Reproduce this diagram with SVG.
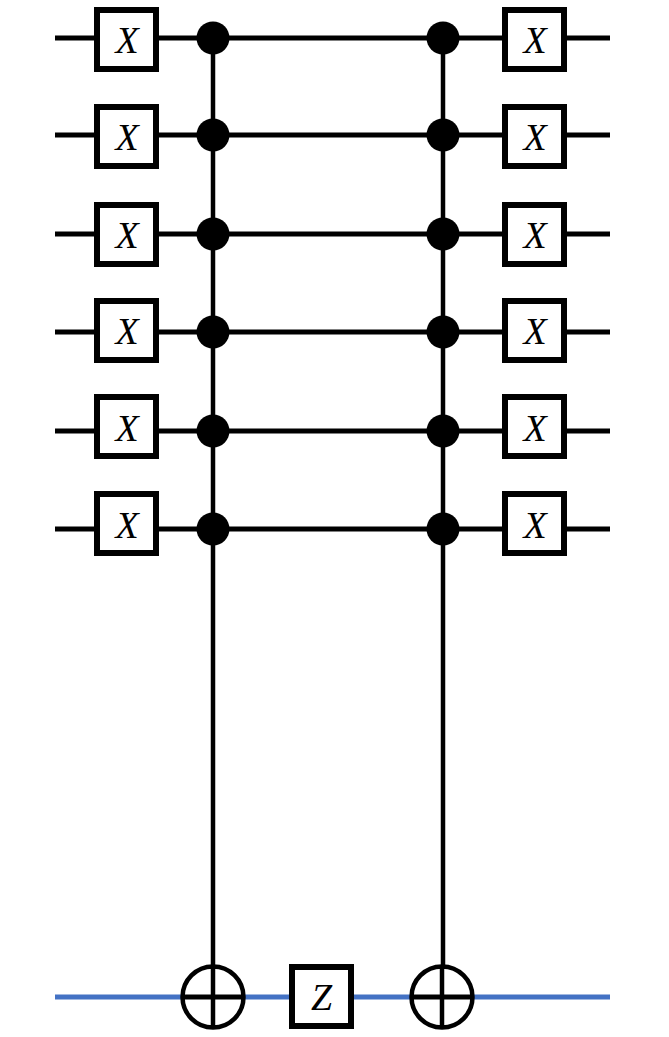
<svg xmlns="http://www.w3.org/2000/svg" width="669" height="1037" viewBox="0 0 669 1037">
<style>
.wire{stroke:#000;stroke-width:5;fill:none}
.qwire{stroke:#4472C4;stroke-width:5;fill:none}
.vline{stroke:#000;stroke-width:4.5;fill:none}
.box{fill:#fff;stroke:#000;stroke-width:6}
.dot{fill:#000}
.tgt{fill:#fff;stroke:#000;stroke-width:4.5}
.lbl{font-family:"Liberation Serif","DejaVu Serif",serif;font-style:italic;font-size:38px;fill:#000;text-anchor:middle;dominant-baseline:central}
</style>
<rect width="669" height="1037" fill="#fff"/>
<g id="connectors">
<line class="wire" x1="55" y1="38" x2="610" y2="38"/>
<line class="wire" x1="55" y1="135" x2="610" y2="135"/>
<line class="wire" x1="55" y1="234" x2="610" y2="234"/>
<line class="wire" x1="55" y1="332" x2="610" y2="332"/>
<line class="wire" x1="55" y1="431" x2="610" y2="431"/>
<line class="wire" x1="55" y1="529" x2="610" y2="529"/>
<line class="qwire" x1="55" y1="997" x2="610" y2="997"/>
<line class="vline" x1="213" y1="38" x2="213" y2="1028"/>
<line class="vline" x1="443" y1="38" x2="443" y2="1028"/>
</g>
<g id="x-left-1"><rect class="box" x="97" y="10" width="59" height="59"/><text class="lbl" x="127" y="40">X</text></g>
<g id="x-left-2"><rect class="box" x="97" y="107" width="59" height="59"/><text class="lbl" x="127" y="137">X</text></g>
<g id="x-left-3"><rect class="box" x="97" y="205" width="59" height="59"/><text class="lbl" x="127" y="235">X</text></g>
<g id="x-left-4"><rect class="box" x="97" y="301" width="59" height="59"/><text class="lbl" x="127" y="331">X</text></g>
<g id="x-left-5"><rect class="box" x="97" y="397" width="59" height="59"/><text class="lbl" x="127" y="428">X</text></g>
<g id="x-left-6"><rect class="box" x="97" y="494" width="59" height="59"/><text class="lbl" x="127" y="525">X</text></g>
<g id="ctrl-1">
<circle class="dot" cx="213" cy="38" r="16.5"/><circle class="dot" cx="213" cy="135" r="16.5"/><circle class="dot" cx="213" cy="234" r="16.5"/>
<circle class="dot" cx="213" cy="332" r="16.5"/><circle class="dot" cx="213" cy="431" r="16.5"/><circle class="dot" cx="213" cy="529" r="16.5"/>
</g>
<g id="ctrl-2">
<circle class="dot" cx="443" cy="38" r="16.5"/><circle class="dot" cx="443" cy="135" r="16.5"/><circle class="dot" cx="443" cy="234" r="16.5"/>
<circle class="dot" cx="443" cy="332" r="16.5"/><circle class="dot" cx="443" cy="431" r="16.5"/><circle class="dot" cx="443" cy="529" r="16.5"/>
</g>
<g id="target-1"><circle class="tgt" cx="213" cy="997" r="30.5"/><line class="wire" x1="182.5" y1="997" x2="243.5" y2="997"/><line class="vline" x1="213" y1="966.5" x2="213" y2="1027.5"/></g>
<g id="z-gate"><rect class="box" x="292" y="967" width="59" height="59"/><text class="lbl" x="321.5" y="997">Z</text></g>
<g id="target-2"><circle class="tgt" cx="442" cy="997" r="30.5"/><line class="wire" x1="411.5" y1="997" x2="472.5" y2="997"/><line class="vline" x1="442" y1="966.5" x2="442" y2="1027.5"/></g>
<g id="x-right-1"><rect class="box" x="505" y="10" width="59" height="59"/><text class="lbl" x="535" y="40">X</text></g>
<g id="x-right-2"><rect class="box" x="505" y="107" width="59" height="59"/><text class="lbl" x="535" y="137">X</text></g>
<g id="x-right-3"><rect class="box" x="505" y="205" width="59" height="59"/><text class="lbl" x="535" y="235">X</text></g>
<g id="x-right-4"><rect class="box" x="505" y="301" width="59" height="59"/><text class="lbl" x="535" y="331">X</text></g>
<g id="x-right-5"><rect class="box" x="505" y="397" width="59" height="59"/><text class="lbl" x="535" y="428">X</text></g>
<g id="x-right-6"><rect class="box" x="505" y="494" width="59" height="59"/><text class="lbl" x="535" y="525">X</text></g>
</svg>
